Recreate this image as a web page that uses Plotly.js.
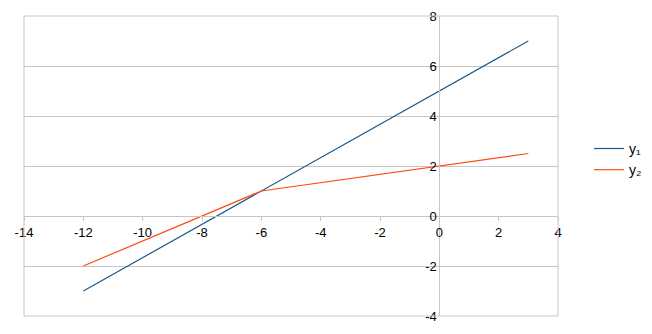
<!DOCTYPE html>
<html><head><meta charset="utf-8">
<script src="https://cdn.plot.ly/plotly-3.0.1.min.js"></script>
<style>html,body{margin:0;padding:0;background:#fff}</style>
</head><body><div id="chart" style="width:652px;height:334px"></div>
<script>
const xValues = [-12, -6, 3];
const y1Values = [-3, 1, 7];
const y2Values = [-2, 1, 2.5];
const seriesNames = ['y₁', 'y₂'];
const xTickVals = [-14, -12, -10, -8, -6, -4, -2, 0, 2, 4];
const xTickText = ['-14', '-12', '-10', '-8', '-6', '-4', '-2', '0', '2', '4'];
const yTickVals = [-4, -2, 0, 2, 4, 6, 8];
const yTickText = ['-4', '-2', '0', '2', '4', '6', '8'];

const grid = '#c6c6c6';
const traces = [
  {x: xValues, y: y1Values, name: seriesNames[0], mode: 'lines', line: {color: '#1c5a8a', width: 1.2}},
  {x: xValues, y: y2Values, name: seriesNames[1], mode: 'lines', line: {color: '#ff4a14', width: 1.2}}
];
const layout = {
  width: 652, height: 334,
  margin: {l: 24, r: 94, t: 16, b: 18, autoexpand: false},
  paper_bgcolor: '#fff', plot_bgcolor: '#fff',
  font: {family: 'Liberation Sans, Arial, sans-serif', size: 13, color: '#000'},
  xaxis: {
    range: [-14, 4], tickvals: xTickVals, ticktext: xTickText,
    anchor: 'free', position: 4/12, automargin: false,
    showgrid: false, zeroline: false, showline: true, linecolor: grid, linewidth: 1,
    ticks: 'outside', ticklen: 4, tickcolor: grid, fixedrange: true
  },
  yaxis: {
    range: [-4, 8], tickvals: yTickVals, ticktext: yTickText,
    anchor: 'free', position: 14/18, automargin: false,
    showgrid: true, gridcolor: grid, gridwidth: 1, zeroline: false,
    showline: true, linecolor: grid, linewidth: 1, ticks: '', fixedrange: true
  },
  shapes: [
    {type: 'rect', xref: 'paper', yref: 'paper', x0: 0, x1: 1, y0: 0, y1: 1, line: {color: grid, width: 1}}
  ],
  legend: {x: 1.058, y: 0.522, xanchor: 'left', yanchor: 'middle', font: {size: 14}, bgcolor: 'rgba(0,0,0,0)', tracegroupgap: 0},
  showlegend: true
};
Plotly.newPlot('chart', traces, layout, {displayModeBar: false, staticPlot: true});
</script></body></html>
